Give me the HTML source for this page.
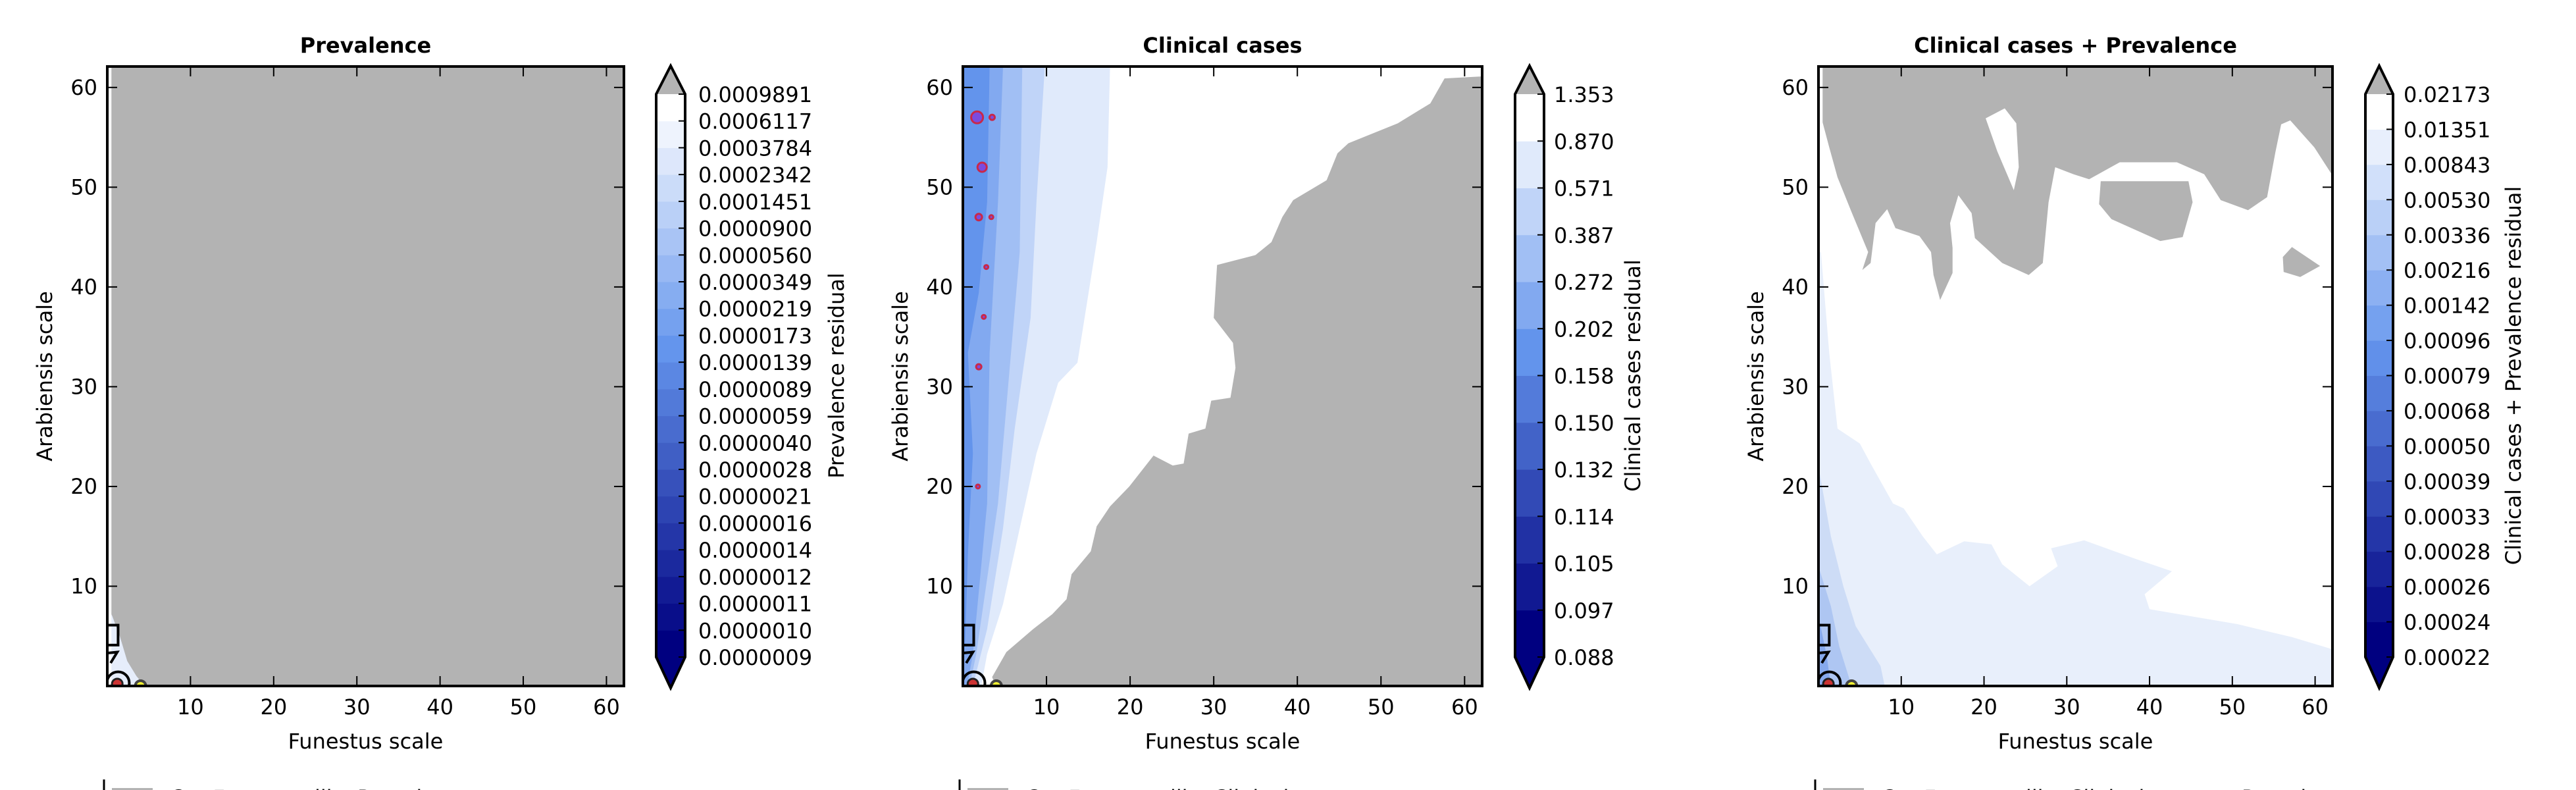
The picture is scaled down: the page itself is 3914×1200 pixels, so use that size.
<!DOCTYPE html>
<html><head><meta charset="utf-8"><style>
html,body{margin:0;padding:0;background:#fff;}
svg{display:block;font-family:"DejaVu Sans","Liberation Sans",sans-serif;}
</style></head><body>
<svg id="fig" width="3914" height="1200" viewBox="0 0 3914 1200" xmlns="http://www.w3.org/2000/svg"></svg>
<script>
// ---- data ----
const xTicks=[10,20,30,40,50,60];
const yTicks=[10,20,30,40,50,60];
const prevLevels=["0.0000009","0.0000010","0.0000011","0.0000012","0.0000014","0.0000016","0.0000021","0.0000028","0.0000040","0.0000059","0.0000089","0.0000139","0.0000173","0.0000219","0.0000349","0.0000560","0.0000900","0.0001451","0.0002342","0.0003784","0.0006117","0.0009891"];
const clinLevels=["0.088","0.097","0.105","0.114","0.132","0.150","0.158","0.202","0.272","0.387","0.571","0.870","1.353"];
const bothLevels=["0.00022","0.00024","0.00026","0.00028","0.00033","0.00039","0.00050","0.00068","0.00079","0.00096","0.00142","0.00216","0.00336","0.00530","0.00843","0.01351","0.02173"];
// contour boundaries in data coordinates [x,y]
const clinGray=[[62,61.1],[57.6,60.9],[55.9,58.4],[52,56.4],[46.1,54.4],[44.8,53.4],[43.5,50.7],[39.5,48.7],[38.2,47],[36.9,44.5],[35,43.2],[30.4,42.2],[30,36.9],[32.3,34.4],[32.6,31.9],[32,28.9],[29.7,28.6],[29,25.8],[27,25.3],[26.4,22.3],[25.1,22.1],[22.8,23.1],[19.9,20],[17.6,18],[16,16],[15.3,13.5],[13,11.2],[12.4,8.7],[10.7,7.2],[8.4,5.7],[5.2,3.4],[3.5,0.9],[3.9,0],[62,0]];
const clinBand1=[[17.6,62.1],[17.3,52],[16,44.5],[13.7,32.4],[11.4,30.4],[8.8,23.3],[6.8,15.8],[4.8,8.2],[2.9,3.2],[2.2,0]];
const clinBand2=[[9.8,62.1],[8.8,48.5],[8.1,36.9],[6.2,25.8],[4.8,15.8],[2.9,5.7],[1.2,0]];
const clinBand3=[[7.1,62.1],[6.8,43.5],[5.5,30.9],[4.2,18.3],[1.6,3.2],[0.8,0]];
const clinBand4=[[4.8,62.1],[4.2,48.5],[3.2,33.4],[2.9,18.3],[1.2,3.2],[0.5,0]];
const clinBand5=[[3.2,62.1],[2.9,48.5],[1.9,39.4],[0.6,33.4],[1.2,23.3],[0.6,13.2],[0.3,5]];
const clinSpots=[[1.7,57,9],[3.5,57,4],[2.3,52,7],[1.9,47,5],[3.4,47,3],[2.8,42,3],[1.9,32,4],[2.5,37,3],[1.8,20,3]];
const bothGray=[[0.5,62.1],[0.5,56.5],[1.3,54],[2.3,51],[4,47.5],[5,45.5],[6,43.5],[5.3,41.7],[6.3,42.4],[6.9,46.4],[8.3,47.8],[9.3,45.9],[12.2,45.1],[13.6,43.5],[13.9,41.2],[14.7,38.7],[16.2,41.4],[16.2,43.9],[15.9,46.4],[16.9,49.2],[18.5,47.4],[18.9,44.9],[22.2,42.4],[25.4,41.2],[27.1,42.4],[27.8,48.5],[28.6,52],[30.8,51.3],[32.7,50.8],[36.4,52.5],[43.3,52.5],[46.6,51.3],[48.6,48.7],[51.9,47.7],[54.2,49],[55.2,53.5],[55.9,56.3],[57,56.7],[59.9,54],[62,51.3],[62,62.1]];
const bothHole=[[20.2,56.9],[22.5,57.9],[23.9,56.4],[24.2,52],[23.6,49.7],[21.6,53.6]];
const bothIsland1=[[34.1,50.6],[44.7,50.6],[45.2,48.5],[44,45],[41.3,44.6],[35.4,46.8],[33.9,48.3]];
const bothIsland2=[[57.2,44],[60.6,42.1],[58.2,41],[56.2,41.5],[56.1,43]];
const bothBand1=[[0,43.5],[0.3,43.5],[1.3,33.4],[2.3,25.8],[5,24.3],[6.3,22.3],[9,18.3],[10.3,17.8],[12.6,15],[14.3,13.2],[17.6,14.5],[20.9,14.2],[22.2,12.2],[25.5,10],[28.9,12],[28.1,13.8],[32.1,14.6],[38.1,12.8],[42.7,11.5],[39.4,9.2],[40,7.7],[50.6,6.2],[57.2,4.9],[62,3.7],[62,0],[0,0]];
const bothBand2=[[0,22],[1.5,15],[3,10],[4.5,6],[7.5,2],[8,0],[0,0]];
const bothBand3=[[0,12],[1.5,8],[2.5,4],[4,0],[0,0]];
const bothBand4=[[0,7],[1,3],[1.5,0],[0,0]];
const prevWhite=[[0,8],[0.6,7],[1.5,5],[2.4,2.5],[3.5,1],[4.5,0],[0,0]];

const NS="http://www.w3.org/2000/svg";
const svg=document.getElementById('fig');
function mk(tag,attrs,parent){const e=document.createElementNS(NS,tag);for(const k in attrs)e.setAttribute(k,attrs[k]);(parent||svg).appendChild(e);return e;}
function lerp(a,b,t){return Math.round(a+(b-a)*t);}
function cmap(t){
  let c0,c1,u;
  if(t<0.55){c0=[0,0,128];c1=[100,149,237];u=t/0.55;}else{c0=[100,149,237];c1=[255,255,255];u=(t-0.55)/0.45;}
  return `rgb(${lerp(c0[0],c1[0],u)},${lerp(c0[1],c1[1],u)},${lerp(c0[2],c1[2],u)})`;
}
const GRAY="#b3b3b3";
function panel(cfg){
  const g=mk('g',{});
  
  
  const L=cfg.ax[0],T=cfg.ax[1],R=cfg.ax[2],B=cfg.ax[3];
  const sx=v=>L+(R-L)*v/62.1, sy=v=>B-(B-T)*v/62.1;
  const clipId='clip'+cfg.idx;
  const cp=mk('clipPath',{id:clipId},g);mk('rect',{x:L,y:T,width:R-L,height:B-T},cp);
  const plot=mk('g',{'clip-path':`url(#${clipId})`},g);
  
  
  const poly=(pts,fill,name)=>{const p=mk('polygon',{points:pts.map(q=>sx(q[0])+','+sy(q[1])).join(' '),fill:fill},plot);
    
    return p;};
  const leftPoly=(curve)=>[[0,62.1]].concat(curve).concat([[0,0]]);
  mk('rect',{x:L,y:T,width:R-L,height:B-T,fill:cfg.bg},plot);
  cfg.draw(poly,leftPoly,sx,sy,plot);
  const m=mk('g',{fill:'none',stroke:'#000','stroke-width':4},plot);
  
  
  mk('rect',{x:sx(0),y:sy(6.1),width:sx(1.3)-sx(0),height:sy(4.1)-sy(6.1)},m);
  mk('path',{d:`M${sx(0)} ${sy(3.3)} L${sx(1.2)} ${sy(3.4)} L${sx(0.4)} ${sy(2.3)}`},m);
  mk('circle',{cx:sx(1.3),cy:sy(0.3),r:17},m);
  mk('circle',{cx:sx(1.2),cy:sy(0.2),r:8,fill:'#c33',stroke:'#222','stroke-width':3},m);
  mk('circle',{cx:sx(4),cy:sy(0),r:8,fill:'#ee3',stroke:'#444','stroke-width':4},m);
  mk('rect',{x:L,y:T,width:R-L,height:B-T,fill:'none',stroke:'#000','stroke-width':4},g);
  xTicks.forEach(v=>{const x=sx(v);
    mk('line',{x1:x,y1:B,x2:x,y2:B-15,stroke:'#000','stroke-width':2},g);
    mk('line',{x1:x,y1:T,x2:x,y2:T+15,stroke:'#000','stroke-width':2},g);
    const t=mk('text',{x:x,y:B+43,'font-size':32,'text-anchor':'middle'},g);t.textContent=v;
    
    });
  yTicks.forEach(v=>{const y=sy(v);
    mk('line',{x1:L,y1:y,x2:L+15,y2:y,stroke:'#000','stroke-width':2},g);
    mk('line',{x1:R,y1:y,x2:R-15,y2:y,stroke:'#000','stroke-width':2},g);
    const t=mk('text',{x:L-15,y:y+11,'font-size':32,'text-anchor':'end'},g);t.textContent=v;
    
    });
  const cx=(L+R)/2;
  let t=mk('text',{x:cx,y:80,'font-size':32,'font-weight':'bold','text-anchor':'middle'},g);t.textContent=cfg.title;
  
  
  t=mk('text',{x:cx,y:1137,'font-size':32,'text-anchor':'middle'},g);t.textContent='Funestus scale';
  
  
  t=mk('text',{x:0,y:0,'font-size':32,'text-anchor':'middle',transform:`translate(${L-84},${(T+B)/2}) rotate(-90)`},g);t.textContent='Arabiensis scale';
  
  
  const cb=mk('g',{},g);
  
  
  const c0=cfg.cb[0],c1=cfg.cb[1],cT=143,cB=998,lv=cfg.levels,n=lv.length-1;
  const cy=i=>cB-(cB-cT)*i/n;
  for(let i=0;i<n;i++){
    const r=mk('rect',{x:c0,y:cy(i+1),width:c1-c0,height:cy(i)-cy(i+1)+0.5,fill:cmap(i/(n-1))},cb);
    
    
  }
  const cm=(c0+c1)/2;
  mk('polygon',{points:`${c0},${cT} ${cm},${100} ${c1},${cT}`,fill:GRAY},cb);
  mk('polygon',{points:`${c0},${cB} ${cm},${1045} ${c1},${cB}`,fill:'#000080'},cb);
  mk('polygon',{points:`${c0},${cT} ${cm},100 ${c1},${cT} ${c1},${cB} ${cm},1045 ${c0},${cB}`,fill:'none',stroke:'#000','stroke-width':4},cb);
  lv.forEach((v,i)=>{const y=cy(i);
    mk('line',{x1:c1,y1:y,x2:c1-10,y2:y,stroke:'#000','stroke-width':2},cb);
    const tt=mk('text',{x:cfg.lx,y:y+12,'font-size':32},cb);tt.textContent=v;
    
    });
  t=mk('text',{x:0,y:0,'font-size':32,'text-anchor':'middle',transform:`translate(${cfg.cbl},${(cT+cB)/2}) rotate(-90)`},g);t.textContent=cfg.cblabel;
  
  
  const lg=mk('g',{},g);
  
  
  mk('line',{x1:L-5,y1:1184,x2:L-5,y2:1200,stroke:'#000','stroke-width':3},lg);
  mk('rect',{x:L+7,y:1197,width:62,height:5,fill:GRAY},lg);
  t=mk('text',{x:L+95,y:1223,'font-size':32},lg);t.textContent=cfg.legend;
  
  
}
const blue=(lv,i)=>cmap(i/(lv.length-2));
panel({idx:1,name:'prevalence-panel',ax:[163,101,948,1042],cb:[997,1041],lx:1061,cbl:1282,title:'Prevalence',cblabel:'Prevalence residual',levels:prevLevels,bg:GRAY,legend:'Cut Funestus-like Prevalence',
  draw:(poly,leftPoly,sx,sy,plot)=>{
    poly(prevWhite,'#e6edfb','low-residual-region');
    poly([[0,62.1],[0.5,62.1],[0.5,0],[0,0]],'#ffffff','edge-strip').setAttribute('opacity','0.9');
  }});
panel({idx:2,name:'clinical-panel',ax:[1463,101,2252,1042],cb:[2302,2346],lx:2361,cbl:2492,title:'Clinical cases',cblabel:'Clinical cases residual',levels:clinLevels,bg:'#ffffff',legend:'Cut Funestus-like Clinical cases',
  draw:(poly,leftPoly,sx,sy,plot)=>{
    poly(clinGray,GRAY,'gray-region');
    poly(leftPoly(clinBand1),blue(clinLevels,10),'band-0.571');
    poly(leftPoly(clinBand2),blue(clinLevels,9),'band-0.387');
    poly(leftPoly(clinBand3),blue(clinLevels,8),'band-0.272');
    poly(leftPoly(clinBand4),blue(clinLevels,7),'band-0.202');
    poly(leftPoly(clinBand5),blue(clinLevels,6),'band-0.158');
    clinSpots.forEach(p=>{const c=mk('circle',{cx:sx(p[0]),cy:sy(p[1]),r:p[2],fill:'#7a4be0',stroke:'#c8284a','stroke-width':3},plot);
      
      });
  }});
panel({idx:3,name:'combined-panel',ax:[2763,101,3544,1042],cb:[3594,3636],lx:3652,cbl:3830,title:'Clinical cases + Prevalence',cblabel:'Clinical cases + Prevalence residual',levels:bothLevels,bg:'#ffffff',legend:'Cut Funestus-like Clinical cases + Prevalence',
  draw:(poly,leftPoly,sx,sy,plot)=>{
    poly(bothGray,GRAY,'gray-region');
    poly(bothHole,'#ffffff','white-hole');
    poly(bothIsland1,GRAY,'gray-island');
    poly(bothIsland2,GRAY,'gray-island-right');
    poly(bothBand1,'#e8effb','band-0.00843');
    poly(bothBand2,'#cddcf6','band-0.00530');
    poly(bothBand3,'#aec6f2','band-0.00336');
    poly(bothBand4,'#86a9ec','band-0.00216');
  }});
</script>
</body></html>
